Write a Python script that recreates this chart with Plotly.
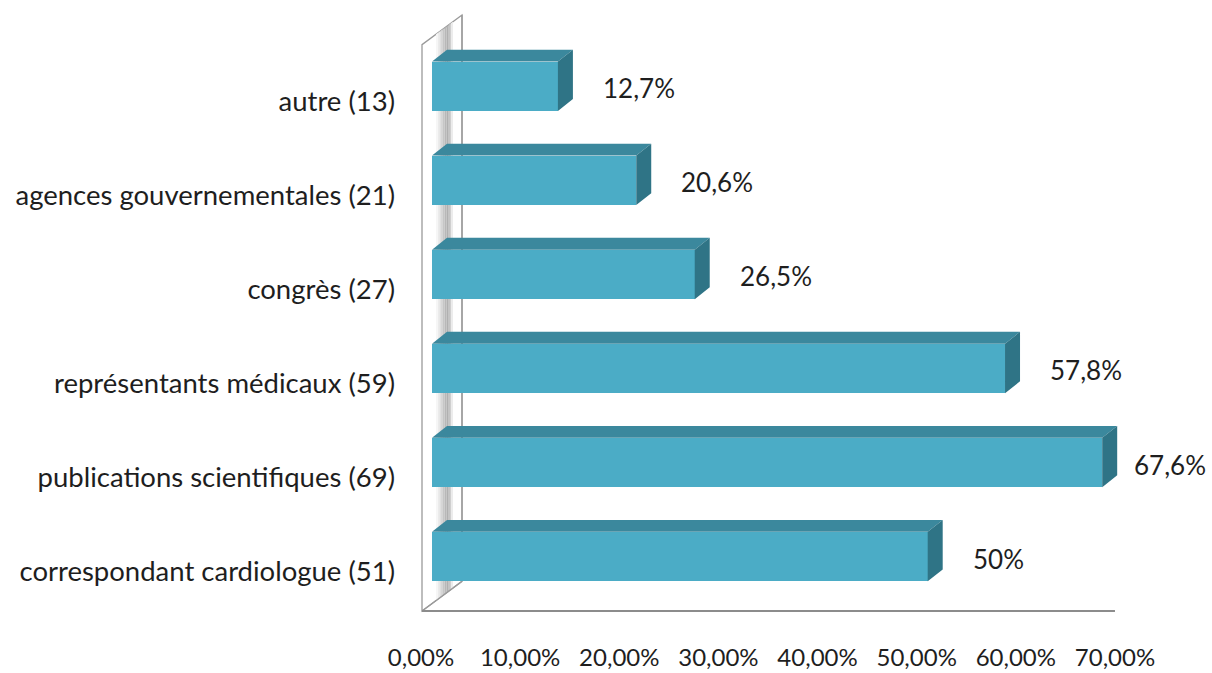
import plotly.graph_objects as go

# ---- data -------------------------------------------------------------
categories = [
    "correspondant cardiologue (51)",
    "publications scientifiques (69)",
    "représentants médicaux (59)",
    "congrès (27)",
    "agences gouvernementales (21)",
    "autre (13)",
]
values = [50.0, 67.6, 57.8, 26.5, 20.6, 12.7]
value_labels = ["50%", "67,6%", "57,8%", "26,5%", "20,6%", "12,7%"]
tick_values = [0, 10, 20, 30, 40, 50, 60, 70]
tick_labels = ["0,00%", "10,00%", "20,00%", "30,00%", "40,00%", "50,00%", "60,00%", "70,00%"]

# ---- geometry ---------------------------------------------------------
W, H = 1212, 673
PX = 9.914          # pixels per percent
CAT = 95.0          # pixels per category
X0_PX, Y0_PX = 432, 562   # pixel position of 0 % / first category
ML, MR, MT, MB = 420, 2, 12, 52

x_lo = -(X0_PX - ML) / PX
x_hi = (W - MR - X0_PX) / PX
y_lo = -(H - MB - Y0_PX) / CAT
y_hi = (Y0_PX - MT) / CAT

BAR_W = 0.526
DX = 15 / PX        # bar depth (x)
DY = 12 / CAT       # bar depth (y)

# wall / floor (front plane and back plane)
WALL_FX = -10 / PX
WALL_BX = 30 / PX
WALL_DY = 30 / CAT
floor_y = -(617 - Y0_PX) / CAT
wall_top_front = (Y0_PX - 45) / CAT
wall_top_back = wall_top_front + WALL_DY
floor_right = 70 - 11 / PX

FRONT = "#4BACC6"
TOP = "#3B889D"
SIDE = "#2F7486"
EDGE = "#9a9a9a"
TXT = "#1e1e1e"

ypos = list(range(len(categories)))

fig = go.Figure()

# front faces of the bars
fig.add_trace(go.Bar(
    x=values, y=ypos, orientation="h", width=BAR_W,
    marker=dict(color=FRONT, line=dict(width=0)),
    hoverinfo="skip", showlegend=False,
))

# top faces
tx, ty = [], []
for yv, v in zip(ypos, values):
    t = yv + BAR_W / 2
    tx += [0, v, v + DX, DX, 0, None]
    ty += [t, t, t + DY, t + DY, t, None]
fig.add_trace(go.Scatter(x=tx, y=ty, fill="toself", fillcolor=TOP, mode="lines",
                         line=dict(width=0, color=TOP), hoverinfo="skip", showlegend=False))

# side faces
sx, sy = [], []
for yv, v in zip(ypos, values):
    b, t = yv - BAR_W / 2, yv + BAR_W / 2
    sx += [v, v, v + DX, v + DX, v, None]
    sy += [b, t, t + DY, b + DY, b, None]
fig.add_trace(go.Scatter(x=sx, y=sy, fill="toself", fillcolor=SIDE, mode="lines",
                         line=dict(width=0, color=SIDE), hoverinfo="skip", showlegend=False))

# ---- wall, shading and floor line -----------------------------------
shapes = []
wall_path = (f"M{WALL_FX},{floor_y} L{WALL_FX},{wall_top_front} "
             f"L{WALL_BX},{wall_top_back} L{WALL_BX},{floor_y + WALL_DY} Z")
shapes.append(dict(type="path", path=wall_path, xref="x", yref="y", layer="below",
                   fillcolor="white", line=dict(color=EDGE, width=1.3)))

# soft grey shading on the inner face of the wall
grad = ["#f6f6f6", "#e8e8e8", "#d6d6d6", "#c6c6c6", "#b8b8b8", "#b0b0b0", "#c4c4c4", "#ececec"]
s0, s1 = 4 / PX, 21 / PX
n = len(grad)
for i, c in enumerate(grad):
    a = s0 + (s1 - s0) * i / n
    b = s0 + (s1 - s0) * (i + 1) / n
    fa = (a - WALL_FX) / (WALL_BX - WALL_FX)
    fb = (b - WALL_FX) / (WALL_BX - WALL_FX)
    p = (f"M{a},{floor_y + WALL_DY * fa} L{a},{wall_top_front + WALL_DY * fa} "
         f"L{b},{wall_top_front + WALL_DY * fb} L{b},{floor_y + WALL_DY * fb} Z")
    shapes.append(dict(type="path", path=p, xref="x", yref="y", layer="below",
                       fillcolor=c, line=dict(width=0)))

# back edge of the wall and the extra front edge line
shapes.append(dict(type="line", xref="x", yref="y", layer="below",
                   x0=WALL_BX, x1=WALL_BX, y0=floor_y + WALL_DY, y1=wall_top_back,
                   line=dict(color=EDGE, width=1.3)))
shapes.append(dict(type="line", xref="x", yref="y", layer="below",
                   x0=WALL_FX - 2.5 / PX, x1=WALL_FX - 2.5 / PX, y0=floor_y, y1=wall_top_front + 2 / CAT,
                   line=dict(color="#c4c4c4", width=1)))
shapes.append(dict(type="line", xref="x", yref="y", layer="below",
                   x0=WALL_FX, x1=WALL_BX, y0=floor_y, y1=floor_y + WALL_DY,
                   line=dict(color=EDGE, width=1.3)))
# floor front edge
shapes.append(dict(type="line", xref="x", yref="y", layer="above",
                   x0=WALL_FX, x1=floor_right, y0=floor_y, y1=floor_y,
                   line=dict(color="#8c8c8c", width=2)))

# ---- value labels -----------------------------------------------------
annotations = []
label_w = 72
for yv, v, lab in zip(ypos, values, value_labels):
    front_px = X0_PX + v * PX
    shift = min(43, (W - 8 - label_w) - front_px)
    annotations.append(dict(x=v, y=yv, xref="x", yref="y", text=lab, showarrow=False,
                            xanchor="left", yanchor="middle", xshift=shift, yshift=-2,
                            font=dict(family="Lato", size=26, color=TXT)))

fig.update_layout(
    width=W, height=H,
    margin=dict(l=ML, r=MR, t=MT, b=MB, pad=0),
    paper_bgcolor="white", plot_bgcolor="white",
    shapes=shapes, annotations=annotations,
    bargap=0, showlegend=False,
    xaxis=dict(range=[x_lo, x_hi], tickvals=tick_values, ticktext=tick_labels,
               showgrid=False, zeroline=False, showline=False, ticks="",
               ticklabelshift=-11, ticklabelstandoff=26,
               tickfont=dict(family="Lato", size=24, color=TXT), fixedrange=True),
    yaxis=dict(range=[y_lo, y_hi], tickvals=ypos, ticktext=categories,
               showgrid=False, zeroline=False, showline=False, ticks="",
               ticklabelshift=15, ticklabelstandoff=24,
               tickfont=dict(family="Lato", size=27.5, color=TXT), fixedrange=True),
)

fig.write_html("out.html", config={"displayModeBar": False})
